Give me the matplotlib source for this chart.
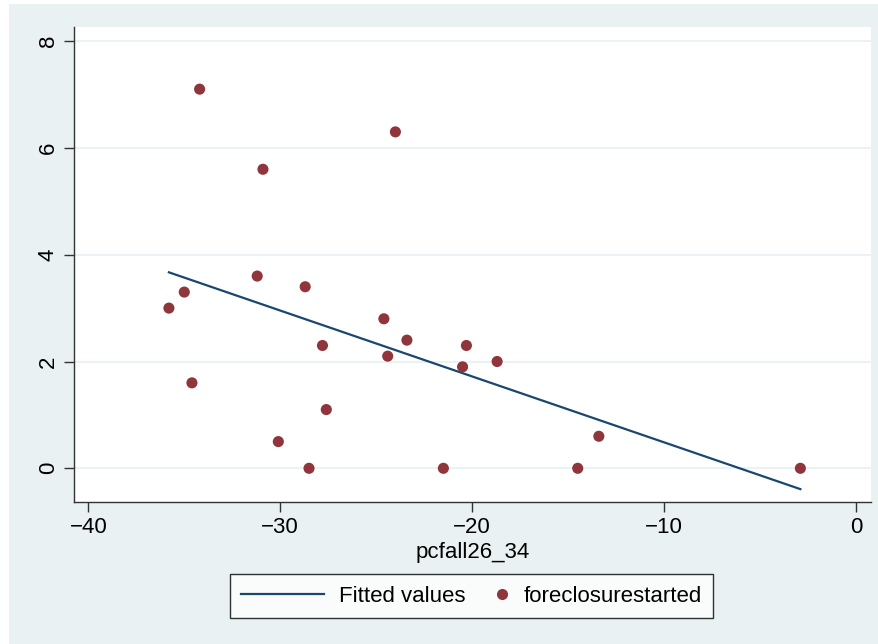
import matplotlib
matplotlib.use("Agg")
from matplotlib import pyplot as plt
from matplotlib.patches import Rectangle
from matplotlib.lines import Line2D
from matplotlib.legend_handler import HandlerBase

# data
pcfall = [-34.2, -24.0, -30.9, -31.2, -28.7, -35.0, -35.8, -24.6, -23.4, -27.8, -20.3,
          -24.4, -18.7, -20.5, -34.6, -27.6, -13.4, -30.1, -28.5, -21.5, -14.5, -2.9]
foreclosure = [7.1, 6.3, 5.6, 3.6, 3.4, 3.3, 3.0, 2.8, 2.4, 2.3, 2.3,
               2.1, 2.0, 1.9, 1.6, 1.1, 0.6, 0.5, 0.0, 0.0, 0.0, 0.0]
fit_x = [-35.8, -2.9]
fit_y = [3.67, -0.39]
xticks = [-40, -30, -20, -10, 0]
yticks = [0, 2, 4, 6, 8]

bg = "#E9F1F3"
navy = "#1A476F"
maroon = "#90353B"

plt.rcParams['font.family'] = ['Liberation Sans', 'DejaVu Sans']


# legend dot sits at the right end of its handle box (Stata style)
class RightDot(HandlerBase):
    def create_artists(self, legend, orig_handle, xdescent, ydescent, width, height, fontsize, trans):
        dot = Line2D([width - xdescent - 5], [height / 2 - ydescent], marker="o", ls="none",
                     markersize=8, color=maroon, markeredgecolor="none")
        dot.set_transform(trans)
        return [dot]


W, H = 879, 644
fig = plt.figure(figsize=(W / 100, H / 100), dpi=100, facecolor="white")
fig.patches.append(Rectangle((9 / W, 0), 1 - 9 / W, 1 - 4 / H, transform=fig.transFigure,
                             facecolor=bg, edgecolor="none", zorder=-10))

ax = fig.add_axes([74 / W, 142 / H, (871 - 74) / W, (617 - 142) / H])
ax.set_facecolor("white")

line, = ax.plot(fit_x, fit_y, color=navy, lw=1.6, zorder=3)
pts = ax.scatter(pcfall, foreclosure, s=64, color=maroon, edgecolors="none", zorder=4)

ax.set_xlim(-40.745, 0.78)
ax.set_ylim(-0.631, 8.264)
ax.set_xticks(xticks)
ax.set_yticks(yticks)
ax.set_xticklabels(["\u221240", "\u221230", "\u221220", "\u221210", "0"])
ax.set_yticklabels([str(v) for v in yticks], rotation=90, va="center")
ax.grid(axis="y", color=bg, lw=1.3)
ax.set_axisbelow(True)

for side in ["top", "right"]:
    ax.spines[side].set_visible(False)
for side in ["left", "bottom"]:
    ax.spines[side].set_color("#333333")
    ax.spines[side].set_linewidth(1.0)
ax.tick_params(length=7, width=1.0, color="#333333", labelsize=16, pad=4)
ax.tick_params(axis="y", pad=4)

ax.set_xlabel("pcfall26_34", fontsize=16, labelpad=3)

leg = ax.legend([line, pts], ["Fitted values", "foreclosurestarted"],
                handler_map={pts: RightDot()},
                loc="center", bbox_to_anchor=(471.5 / W, 48 / H), bbox_transform=fig.transFigure,
                ncol=2, fontsize=16, frameon=True, fancybox=False, handlelength=3.74,
                columnspacing=-1.8, borderpad=0.5, handletextpad=0.68)
leg.get_frame().set_edgecolor("black")
leg.get_frame().set_linewidth(1.0)

fig.savefig("out.png", dpi=100, facecolor=fig.get_facecolor())
